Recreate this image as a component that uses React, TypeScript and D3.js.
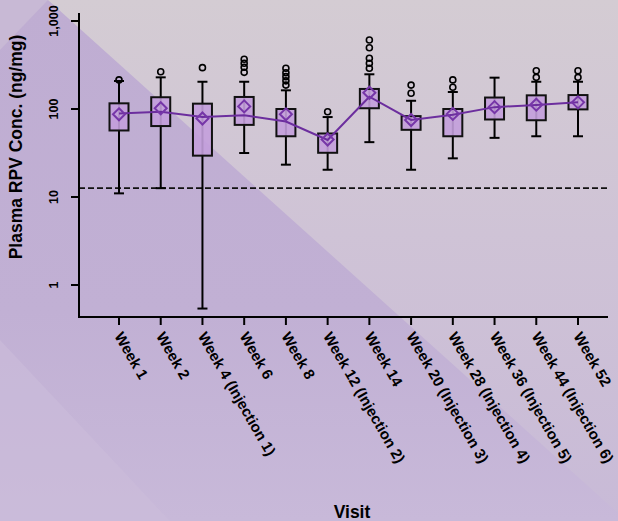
import React from "react";
import * as d3 from "d3";

const visits = [
  "Week 1",
  "Week 2",
  "Week 4 (Injection 1)",
  "Week 6",
  "Week 8",
  "Week 12 (Injection 2)",
  "Week 14",
  "Week 20 (Injection 3)",
  "Week 28 (Injection 4)",
  "Week 36 (Injection 5)",
  "Week 44 (Injection 6)",
  "Week 52",
];
const whiskerLow = [11, 12.6, 0.54, 31.6, 23.3, 20.4, 42, 20.4, 27.5, 47, 49, 49];
const q1 = [57, 64, 29.5, 66, 49, 31.8, 102, 58, 49, 76, 74.5, 99];
const medians = [89, 93, 81, 85, 72, 44.5, 138, 75, 86, 105, 111, 119];
const q3 = [116, 136, 115, 137, 100, 52.7, 169, 83, 100, 135, 143, 144];
const whiskerHigh = [208, 229, 204, 204, 163, 81, 248, 124, 156, 227, 204, 204];
const means = [87, 102, 78, 107, 87, 45, 153, 75, 88, 105, 112, 119];
const outliers: number[][] = [
  [214],
  [265],
  [295],
  [367, 331, 298, 261],
  [290, 258, 233, 209, 187],
  [93],
  [608, 497, 377, 331, 290],
  [187, 151],
  [214, 177],
  [],
  [272, 229],
  [272, 229],
];
const yTicks = [1, 10, 100, 1000];
const lloq = 12.6;

const W = 618;
const H = 521;
const FONT = "'Liberation Sans', Arial, sans-serif";

export default function App() {
  const x = d3.scalePoint<string>().domain(visits).range([119, 578]);
  const y = d3.scaleLog().domain([1, 1000]).range([285, 21]);
  const axisLeft = 79;
  const axisBottom = 317;
  const boxW = 19;
  const fmt = d3.format(",");

  const line = d3
    .line<number>()
    .x((_, i) => x(visits[i]) as number)
    .y((d) => y(d));

  const boxFill = "#c39fdc";
  const purple = "#6c2e9e";

  return (
    <svg
      width={W}
      height={H}
      style={{ position: "fixed", left: 0, top: 0, display: "block" }}
      fontFamily={FONT}
    >
      <defs>
        <linearGradient id="bgUp" x1="0" y1="0" x2="0" y2="1">
          <stop offset="0" stopColor="#d4ccd3" />
          <stop offset="0.45" stopColor="#cfc3d6" />
          <stop offset="1" stopColor="#c8bad7" />
        </linearGradient>
        <linearGradient id="bgDown" x1="0" y1="0" x2="0" y2="1">
          <stop offset="0" stopColor="#bfadd2" />
          <stop offset="0.6" stopColor="#c1b0d4" />
          <stop offset="1" stopColor="#c8b9d9" />
        </linearGradient>
      </defs>
      {/* background */}
      <rect x={0} y={0} width={W} height={H} fill="url(#bgUp)" />
      <polygon points="48,0 618,513 618,521 0,521 0,0" fill="url(#bgDown)" />
      <polygon points="0,0 48,0 0,50" fill="#c8b9d5" />
      <polygon points="0,340 170,521 0,521" fill="#cbbddb" opacity={0.6} />

      {/* dashed reference line */}
      <line
        x1={axisLeft}
        x2={608}
        y1={y(lloq)}
        y2={y(lloq)}
        stroke="#111"
        strokeWidth={1.6}
        strokeDasharray="6,3"
      />

      {/* boxes */}
      {visits.map((v, i) => {
        const cx = x(v) as number;
        return (
          <g key={v}>
            <line x1={cx} x2={cx} y1={y(whiskerLow[i])} y2={y(whiskerHigh[i])} stroke="#000" strokeWidth={2} />
            <line x1={cx - 5} x2={cx + 5} y1={y(whiskerLow[i])} y2={y(whiskerLow[i])} stroke="#000" strokeWidth={2} />
            <line x1={cx - 5} x2={cx + 5} y1={y(whiskerHigh[i])} y2={y(whiskerHigh[i])} stroke="#000" strokeWidth={2} />
            <rect
              x={cx - boxW / 2}
              y={y(q3[i])}
              width={boxW}
              height={y(q1[i]) - y(q3[i])}
              fill={boxFill}
              fillOpacity={0.9}
              stroke="#111"
              strokeWidth={2}
            />
            {outliers[i].map((o, j) => (
              <circle key={j} cx={cx} cy={y(o)} r={3} fill="none" stroke="#000" strokeWidth={1.6} />
            ))}
          </g>
        );
      })}

      {/* median line */}
      <path d={line(medians) || ""} fill="none" stroke={purple} strokeWidth={2} />

      {/* mean diamonds */}
      {visits.map((v, i) => {
        const cx = x(v) as number;
        const cy = y(means[i]);
        const s = 6;
        return (
          <polygon
            key={v}
            points={`${cx},${cy - s} ${cx + s},${cy} ${cx},${cy + s} ${cx - s},${cy}`}
            fill="none"
            stroke="#7636a8"
            strokeWidth={2}
          />
        );
      })}

      {/* axes */}
      <line x1={axisLeft} x2={axisLeft} y1={13} y2={axisBottom} stroke="#000" strokeWidth={2} />
      <line x1={axisLeft - 1} x2={608} y1={axisBottom} y2={axisBottom} stroke="#000" strokeWidth={2} />
      {yTicks.map((t) => (
        <g key={t}>
          <line x1={axisLeft - 8} x2={axisLeft} y1={y(t)} y2={y(t)} stroke="#000" strokeWidth={2} />
          <text
            transform={`translate(58,${y(t)}) rotate(-90)`}
            textAnchor="middle"
            fontSize={12.5}
            fontWeight="bold"
            fill="#000"
          >
            {fmt(t)}
          </text>
        </g>
      ))}
      {visits.map((v) => {
        const cx = x(v) as number;
        return (
          <g key={v}>
            <line x1={cx} x2={cx} y1={axisBottom} y2={axisBottom + 8} stroke="#000" strokeWidth={2} />
            <text
              transform={`translate(${cx - 5},336) rotate(60)`}
              textAnchor="start"
              fontSize={15}
              fontWeight="bold"
              fill="#000"
            >
              {v}
            </text>
          </g>
        );
      })}

      {/* titles */}
      <text
        transform={`translate(21.5,147) rotate(-90)`}
        textAnchor="middle"
        fontSize={17.5}
        fontWeight="bold"
        fill="#000"
      >
        Plasma RPV Conc. (ng/mg)
      </text>
      <text x={352} y={518} textAnchor="middle" fontSize={17.5} fontWeight="bold" fill="#000">
        Visit
      </text>
    </svg>
  );
}
